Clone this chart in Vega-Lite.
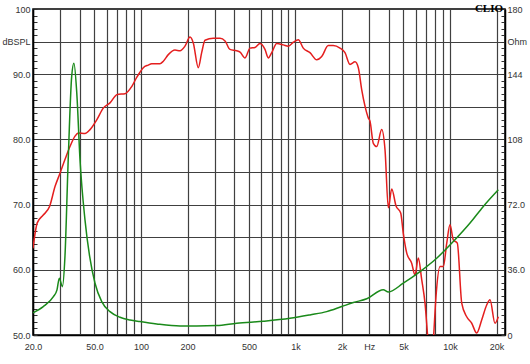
{
  "$schema": "https://vega.github.io/schema/vega-lite/v6.json",
  "width": 472,
  "height": 326,
  "autosize": {"type": "none"},
  "padding": {"left": 33, "top": 9, "right": 25, "bottom": 29},
  "background": "white",
  "title": {"text": "CLIO", "anchor": "end", "frame": "group", "orient": "top", "font": "Liberation Serif", "fontWeight": "bold", "fontSize": 11, "color": "#000000", "dy": 13, "dx": -2},
  "config": {
    "view": {"stroke": "#000000", "strokeWidth": 1.5},
    "axis": {
      "labelFont": "Liberation Sans",
      "labelFontSize": 9,
      "labelColor": "#333333",
      "domainColor": "#000000",
      "domainWidth": 1.5,
      "gridColor": "#404040",
      "gridWidth": 1.2,
      "labelOverlap": false,
      "labelBound": false,
      "labelFlush": false,
      "title": null
    }
  },
  "datasets": {
    "spl": [
      {"f": 20, "db": 63.3}, {"f": 21.3, "db": 67.2}, {"f": 23.3, "db": 68.4}, {"f": 25.6, "db": 69.7},
      {"f": 27.8, "db": 72.8}, {"f": 29.9, "db": 74.8}, {"f": 32.2, "db": 76.9}, {"f": 34.7, "db": 78.9},
      {"f": 37.4, "db": 80.5}, {"f": 39.3, "db": 81.0}, {"f": 43.4, "db": 80.9}, {"f": 46.8, "db": 81.5},
      {"f": 51.7, "db": 83.0}, {"f": 57.0, "db": 84.8}, {"f": 63.0, "db": 85.6}, {"f": 70.2, "db": 86.9},
      {"f": 78.8, "db": 87.0}, {"f": 87.1, "db": 88.1}, {"f": 93.8, "db": 89.5}, {"f": 98.5, "db": 90.3},
      {"f": 103.5, "db": 91.0}, {"f": 111.5, "db": 91.4}, {"f": 117.3, "db": 91.6}, {"f": 132.7, "db": 91.6},
      {"f": 139.5, "db": 92.0}, {"f": 150.2, "db": 93.0}, {"f": 166, "db": 93.7}, {"f": 178.9, "db": 93.6},
      {"f": 192.6, "db": 94.3}, {"f": 207.6, "db": 95.7}, {"f": 218, "db": 94.8}, {"f": 234.9, "db": 91.0},
      {"f": 247, "db": 93.3}, {"f": 259.6, "db": 95.2}, {"f": 293.8, "db": 95.5}, {"f": 324.8, "db": 95.5},
      {"f": 349.9, "db": 95.1}, {"f": 376.8, "db": 93.8}, {"f": 416.5, "db": 93.6}, {"f": 437.6, "db": 93.4},
      {"f": 471.3, "db": 92.5}, {"f": 507.6, "db": 94.0}, {"f": 546.8, "db": 94.1}, {"f": 589, "db": 94.7},
      {"f": 634.5, "db": 93.8}, {"f": 666.9, "db": 92.5}, {"f": 701.6, "db": 93.3}, {"f": 755.8, "db": 94.7},
      {"f": 833.9, "db": 94.5}, {"f": 898.6, "db": 94.3}, {"f": 968, "db": 94.9}, {"f": 1043, "db": 95.3},
      {"f": 1123, "db": 94.0}, {"f": 1241, "db": 93.3}, {"f": 1372, "db": 92.2}, {"f": 1478, "db": 92.7},
      {"f": 1630, "db": 94.4}, {"f": 1756, "db": 94.4}, {"f": 1941, "db": 94.0}, {"f": 2091, "db": 93.3},
      {"f": 2253, "db": 91.5}, {"f": 2428, "db": 91.9}, {"f": 2551, "db": 91.0}, {"f": 2684, "db": 87.6},
      {"f": 2818, "db": 85.1}, {"f": 2960, "db": 83.3}, {"f": 3036, "db": 82.8}, {"f": 3189, "db": 79.4},
      {"f": 3355, "db": 78.9}, {"f": 3614, "db": 81.5}, {"f": 3797, "db": 78.4}, {"f": 3989, "db": 69.5},
      {"f": 4196, "db": 72.4}, {"f": 4474, "db": 69.8}, {"f": 4797, "db": 68.7}, {"f": 4985, "db": 65.6},
      {"f": 5245, "db": 62.6}, {"f": 5651, "db": 61.0}, {"f": 5937, "db": 59.2}, {"f": 6236, "db": 61.8},
      {"f": 6561, "db": 58.5}, {"f": 6890, "db": 54.9}, {"f": 7238, "db": 48.5}, {"f": 7500, "db": 44.0},
      {"f": 7798, "db": 49.0}, {"f": 8117, "db": 55.9}, {"f": 8618, "db": 60.5}, {"f": 9053, "db": 60.5},
      {"f": 9527, "db": 64.1}, {"f": 10000, "db": 66.9}, {"f": 10505, "db": 64.6}, {"f": 11151, "db": 64.1},
      {"f": 11910, "db": 54.9}, {"f": 12829, "db": 52.8}, {"f": 13823, "db": 51.8}, {"f": 14887, "db": 50.3},
      {"f": 16039, "db": 52.3}, {"f": 17279, "db": 54.6}, {"f": 18156, "db": 55.4}, {"f": 19560, "db": 51.8},
      {"f": 20550, "db": 52.8}
    ],
    "imp": [
      {"f": 20, "ohm": 12.3}, {"f": 23.3, "ohm": 15.7}, {"f": 27.1, "ohm": 21.2}, {"f": 28.6, "ohm": 24.9},
      {"f": 29.6, "ohm": 31.4}, {"f": 31.0, "ohm": 26.7}, {"f": 32.2, "ohm": 43.3}, {"f": 33.8, "ohm": 96.8},
      {"f": 35.6, "ohm": 142.8}, {"f": 36.8, "ohm": 150.0}, {"f": 38.4, "ohm": 133.7}, {"f": 40.3, "ohm": 96.8},
      {"f": 43.4, "ohm": 63.6}, {"f": 46.5, "ohm": 43.5}, {"f": 50.4, "ohm": 28.6}, {"f": 55.7, "ohm": 18.4},
      {"f": 63.0, "ohm": 12.9}, {"f": 73.1, "ohm": 9.8}, {"f": 84.9, "ohm": 8.3}, {"f": 98.5, "ohm": 7.4},
      {"f": 126.4, "ohm": 6.1}, {"f": 178.9, "ohm": 5.0}, {"f": 229.4, "ohm": 5.0}, {"f": 309, "ohm": 5.2},
      {"f": 416.5, "ohm": 6.5}, {"f": 619, "ohm": 7.6}, {"f": 921, "ohm": 9.2}, {"f": 1241, "ohm": 11.1},
      {"f": 1592, "ohm": 12.9}, {"f": 1991, "ohm": 15.7}, {"f": 2368, "ohm": 17.9}, {"f": 2891, "ohm": 20.0},
      {"f": 3701, "ohm": 25.0}, {"f": 3989, "ohm": 23.8}, {"f": 4985, "ohm": 28.6}, {"f": 6397, "ohm": 35.0},
      {"f": 8201, "ohm": 42.4}, {"f": 10505, "ohm": 51.6}, {"f": 13480, "ohm": 61.8}, {"f": 16430, "ohm": 71.0},
      {"f": 20550, "ohm": 80.2}
    ]
  },
  "layer": [
    {
      "data": {"name": "spl"},
      "mark": {"type": "line", "color": "#e41e1e", "strokeWidth": 1.5, "interpolate": "monotone", "clip": true},
      "encoding": {
        "x": {
          "field": "f", "type": "quantitative",
          "scale": {"type": "log", "domain": [20, 22700], "nice": false},
          "axis": {
            "values": [20, 30, 40, 50, 60, 70, 80, 90, 100, 200, 300, 400, 500, 600, 700, 800, 900, 1000, 2000, 3000, 4000, 5000, 6000, 7000, 8000, 9000, 10000, 20000],
            "grid": true,
            "ticks": false,
            "labelOverlap": false,
            "labelPadding": 7,
            "labelExpr": "datum.value==20?'20.0':datum.value==50?'50.0':datum.value==100?'100':datum.value==200?'200':datum.value==500?'500':datum.value==1000?'1k':datum.value==2000?'2k':datum.value==3000?'Hz':datum.value==5000?'5k':datum.value==10000?'10k':datum.value==20000?'20k':''"
          }
        },
        "y": {
          "field": "db", "type": "quantitative",
          "scale": {"domain": [50, 100], "nice": false, "zero": false},
          "axis": {
            "orient": "left",
            "values": [50,51,52,53,54,55,56,57,58,59,60,61,62,63,64,65,66,67,68,69,70,71,72,73,74,75,76,77,78,79,80,81,82,83,84,85,86,87,88,89,90,91,92,93,94,95,96,97,98,99,100],
            "grid": true,
            "gridOpacity": {"condition": {"test": "datum.value % 5 == 0", "value": 1}, "value": 0},
            "tickSize": -4,
            "tickColor": "#333333",
            "labelOverlap": false,
            "labelPadding": 7,
            "labelExpr": "datum.value==100?'100':datum.value==95?'dBSPL':datum.value%10==0?format(datum.value,'.1f'):''"
          }
        }
      }
    },
    {
      "data": {"name": "imp"},
      "mark": {"type": "line", "color": "#1a8a1a", "strokeWidth": 1.5, "interpolate": "monotone", "clip": true},
      "encoding": {
        "x": {"field": "f", "type": "quantitative"},
        "y": {
          "field": "ohm", "type": "quantitative",
          "scale": {"domain": [0, 180], "nice": false},
          "axis": {
            "orient": "right",
            "values": [0,3.6,7.2,10.8,14.4,18,21.6,25.2,28.8,32.4,36,39.6,43.2,46.8,50.4,54,57.6,61.2,64.8,68.4,72,75.6,79.2,82.8,86.4,90,93.6,97.2,100.8,104.4,108,111.6,115.2,118.8,122.4,126,129.6,133.2,136.8,140.4,144,147.6,151.2,154.8,158.4,162,165.6,169.2,172.8,176.4,180],
            "grid": false,
            "tickSize": -4,
            "tickColor": "#333333",
            "labelOverlap": false,
            "labelPadding": 6,
            "labelExpr": "abs(datum.value-180)<0.01?'180':abs(datum.value-162)<0.01?'Ohm':abs(datum.value-144)<0.01?'144':abs(datum.value-108)<0.01?'108':abs(datum.value-72)<0.01?'72.0':abs(datum.value-36)<0.01?'36.0':datum.value<0.01?'0':''"
          }
        }
      }
    }
  ],
  "resolve": {"scale": {"y": "independent"}}
}
